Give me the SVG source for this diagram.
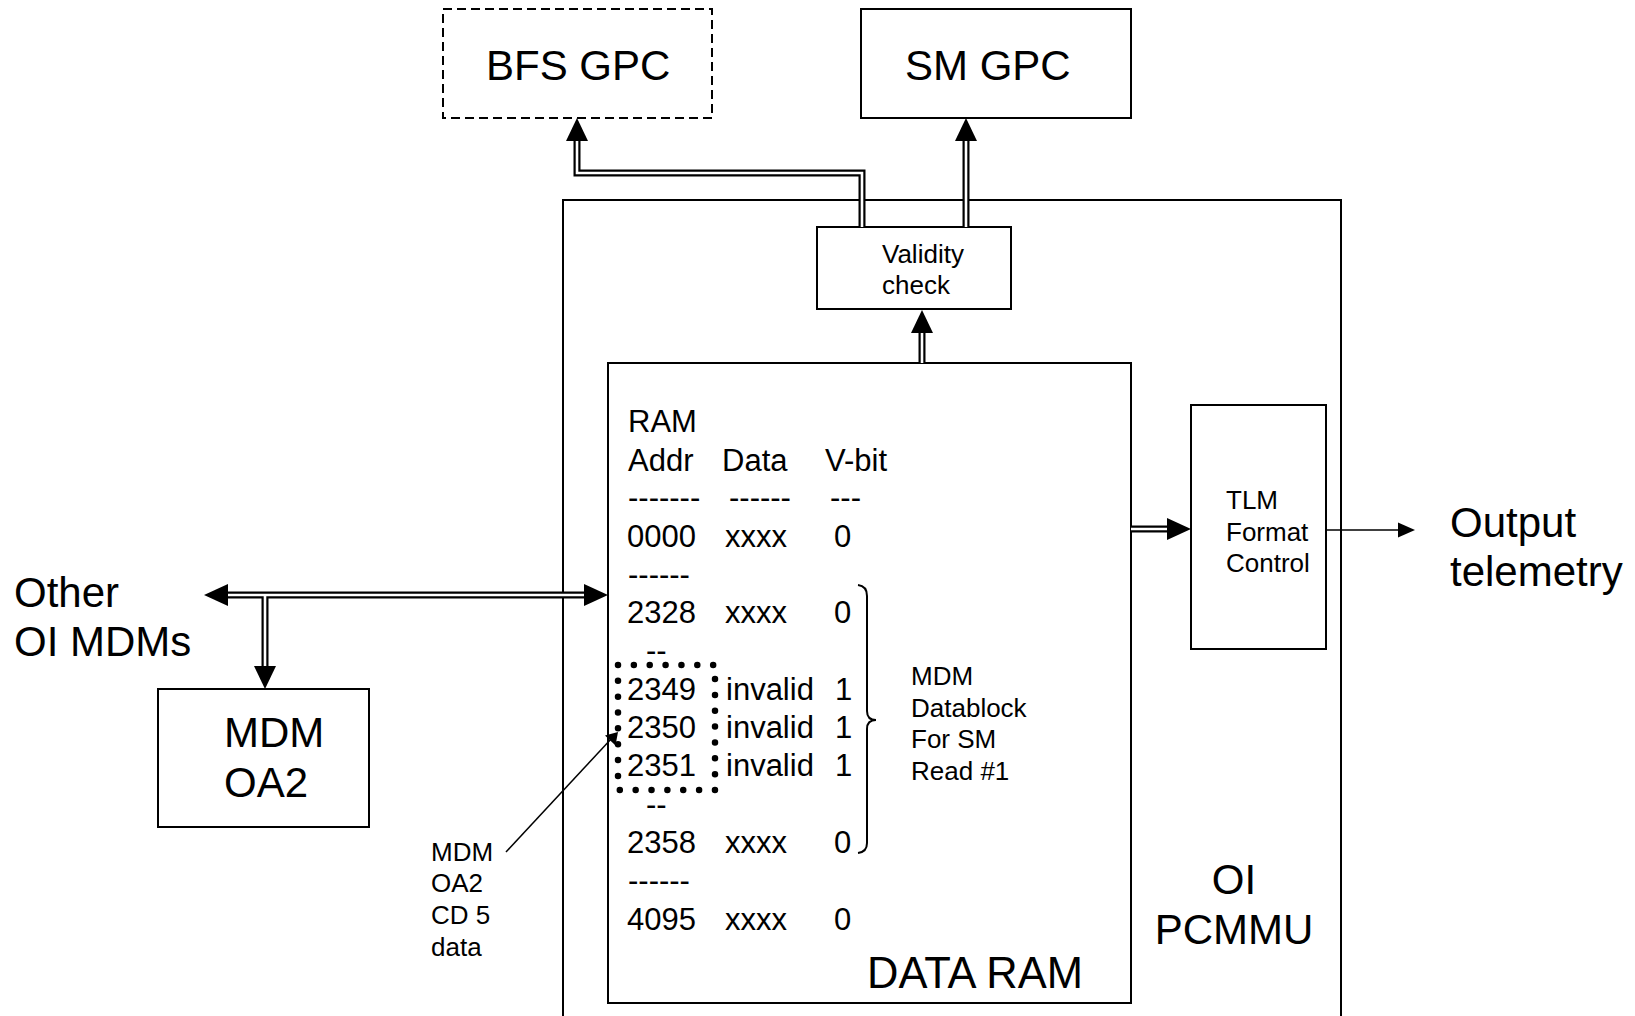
<svg xmlns="http://www.w3.org/2000/svg" width="1635" height="1016" viewBox="0 0 1635 1016">
<style>
text{font-family:"Liberation Sans",Arial,Helvetica,sans-serif;fill:#000}
.t42{font-size:42px}.t31{font-size:31px}.t26{font-size:26px}
.box{fill:#fff;stroke:#000;stroke-width:2}
.dash{fill:none;stroke:#000;stroke-width:2;stroke-dasharray:9 5}
.dbo{fill:none;stroke:#000;stroke-width:7;stroke-linejoin:miter}
.dbi{fill:none;stroke:#fff;stroke-width:2.6;stroke-linejoin:miter}
.thin{fill:none;stroke:#000;stroke-width:1.5}
.head{fill:#000}
.dots{fill:none;stroke:#000;stroke-width:6.5;stroke-linecap:round;stroke-dasharray:0 15.86}
</style>
<rect width="1635" height="1016" fill="#fff"/>

<g id="oi-pcmmu">
<path d="M563,1020 V200 H1341 V1020" fill="none" stroke="#000" stroke-width="2"/>
<text class="t42" text-anchor="middle"><tspan x="1234" y="894">OI</tspan><tspan x="1234" y="944">PCMMU</tspan></text>
</g>

<g id="bfs-gpc">
<rect class="dash" x="443" y="9" width="269" height="109"/>
<text class="t42" x="486" y="80">BFS GPC</text>
</g>

<g id="sm-gpc">
<rect class="box" x="861" y="9" width="270" height="109"/>
<text class="t42" x="905" y="80">SM GPC</text>
</g>

<g id="validity-check">
<rect class="box" x="817" y="227" width="194" height="82"/>
<text class="t26"><tspan x="882" y="263">Validity</tspan><tspan x="882" y="294">check</tspan></text>
</g>

<g id="data-ram">
<rect class="box" x="608" y="363" width="523" height="640"/>
<g class="t31">
<text class="t31" x="628" y="432">RAM</text>
<text class="t31" x="628" y="471">Addr</text><text class="t31" x="722" y="471">Data</text><text class="t31" x="825" y="471">V-bit</text>
<text class="t31" x="628" y="508">-------</text><text class="t31" x="729" y="508">------</text><text class="t31" x="830" y="508">---</text>
<text class="t31" x="627" y="547">0000</text><text class="t31" x="725" y="547">xxxx</text><text class="t31" x="834" y="547">0</text>
<text class="t31" x="628" y="585">------</text>
<text class="t31" x="627" y="623">2328</text><text class="t31" x="725" y="623">xxxx</text><text class="t31" x="834" y="623">0</text>
<text class="t31" x="646" y="661">--</text>
<text class="t31" x="627" y="700">2349</text><text class="t31" x="726" y="700">invalid</text><text class="t31" x="835" y="700">1</text>
<text class="t31" x="627" y="738">2350</text><text class="t31" x="726" y="738">invalid</text><text class="t31" x="835" y="738">1</text>
<text class="t31" x="627" y="776">2351</text><text class="t31" x="726" y="776">invalid</text><text class="t31" x="835" y="776">1</text>
<text class="t31" x="646" y="815">--</text>
<text class="t31" x="627" y="853">2358</text><text class="t31" x="725" y="853">xxxx</text><text class="t31" x="834" y="853">0</text>
<text class="t31" x="628" y="891">------</text>
<text class="t31" x="627" y="930">4095</text><text class="t31" x="725" y="930">xxxx</text><text class="t31" x="834" y="930">0</text>
</g>
<text x="867" y="988" style="font-size:43.5px">DATA RAM</text>
</g>

<g id="oa2-selection">
<rect class="dots" x="618" y="665" width="97" height="125"/>
</g>

<g id="datablock-brace">
<path d="M858,585 Q867,586 867,596 L867,711 Q867,720 876,720 Q867,720 867,729 L867,843 Q867,852 858,853" fill="none" stroke="#000" stroke-width="2"/>
<text class="t26"><tspan x="911" y="685">MDM</tspan><tspan x="911" y="717">Datablock</tspan><tspan x="911" y="748">For SM</tspan><tspan x="911" y="780">Read #1</tspan></text>
</g>

<g id="tlm-format-control">
<rect class="box" x="1191" y="405" width="135" height="244"/>
<text class="t26"><tspan x="1226" y="509">TLM</tspan><tspan x="1226" y="541">Format</tspan><tspan x="1226" y="572">Control</tspan></text>
</g>

<g id="mdm-oa2">
<rect class="box" x="158" y="689" width="211" height="138"/>
<text class="t42"><tspan x="224" y="747">MDM</tspan><tspan x="224" y="797">OA2</tspan></text>
</g>

<g id="other-oi-mdms">
<text class="t42"><tspan x="14" y="607">Other</tspan><tspan x="14" y="656">OI MDMs</tspan></text>
</g>

<g id="output-telemetry">
<text class="t42"><tspan x="1450" y="537">Output</tspan><tspan x="1450" y="586">telemetry</tspan></text>
</g>

<g id="cd5-label">
<text class="t26"><tspan x="431" y="861">MDM</tspan><tspan x="431" y="892">OA2</tspan><tspan x="431" y="924">CD 5</tspan><tspan x="431" y="956">data</tspan></text>
</g>

<g id="connectors">
<!-- Validity -> BFS GPC -->
<polyline class="dbo" points="862,227 862,173 577,173 577,139"/>
<polyline class="dbi" points="862,227 862,173 577,173 577,139"/>
<polygon class="head" points="577,118 566,141 588,141"/>
<!-- Validity -> SM GPC -->
<line class="dbo" x1="966" y1="227" x2="966" y2="139"/>
<line class="dbi" x1="966" y1="227" x2="966" y2="139"/>
<polygon class="head" points="966,118 955,141 977,141"/>
<!-- DATA RAM -> Validity -->
<line class="dbo" x1="922" y1="363" x2="922" y2="331"/>
<line class="dbi" x1="922" y1="363" x2="922" y2="331"/>
<polygon class="head" points="922,310 911,333 933,333"/>
<!-- bus Other OI MDMs <-> DATA RAM, branch to MDM OA2 -->
<line class="dbo" x1="265" y1="595" x2="265" y2="668"/>
<line class="dbo" x1="226" y1="595" x2="586" y2="595"/>
<line class="dbi" x1="265" y1="595" x2="265" y2="668"/>
<line class="dbi" x1="226" y1="595" x2="586" y2="595"/>
<polygon class="head" points="204,595 228,584 228,606"/>
<polygon class="head" points="608,595 584,584 584,606"/>
<polygon class="head" points="265,689 254,666 276,666"/>
<!-- DATA RAM -> TLM -->
<line class="dbo" x1="1131" y1="529" x2="1169" y2="529"/>
<line class="dbi" x1="1131" y1="529" x2="1169" y2="529"/>
<polygon class="head" points="1191,529 1167,518 1167,540"/>
<!-- TLM -> Output telemetry -->
<line class="thin" x1="1326" y1="530" x2="1401" y2="530"/>
<polygon class="head" points="1415,530 1398,522.5 1398,537.5"/>
<!-- CD5 label -> 2350 -->
<line class="thin" x1="506" y1="852" x2="612" y2="738"/>
<polygon class="head" points="618,732 615.5,745.5 605,735.5"/>
</g>
</svg>
